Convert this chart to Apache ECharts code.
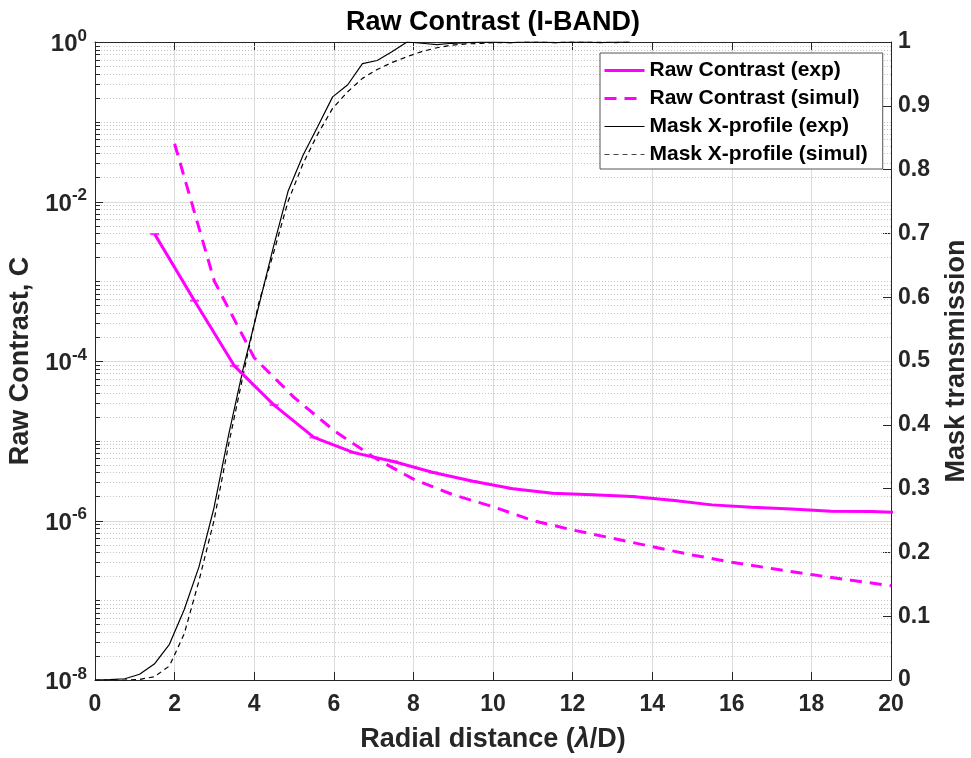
<!DOCTYPE html>
<html><head><meta charset="utf-8">
<script src="https://cdn.jsdelivr.net/npm/echarts@6/dist/echarts.min.js"></script>
<style>html,body{margin:0;padding:0;background:#fff}#c{width:971px;height:758px}</style>
</head><body><div id="c"></div>
<script>
const FONT = '"Liberation Sans", Arial, Helvetica, sans-serif';

// Raw contrast, experimental (log scale)
const contrastExpX = [1.5,2.5,3.5,4.5,5.5,6.5,7.5,8.5,9.5,10.5,11.5,12.5,13.5,14.5,15.5,16.5,17.5,18.5,19.5,20.5];
const contrastExpY = [3.9e-3,5.7e-4,8.7e-5,2.8e-5,1.1e-5,7.1e-6,5.5e-6,4.0e-6,3.1e-6,2.5e-6,2.2e-6,2.1e-6,2.0e-6,1.8e-6,1.57e-6,1.47e-6,1.39e-6,1.31e-6,1.3e-6,1.24e-6];

// Raw contrast, simulated
const contrastSimX = [2,3,4,5,6,7,8,9,10,11,12,13,14,15,16,17,18,19,20];
const contrastSimY = [5.3e-2,1.0e-3,1.1e-4,3.5e-5,1.35e-5,6.2e-6,3.3e-6,2.1e-6,1.49e-6,1.0e-6,7.6e-7,6.0e-7,4.7e-7,3.7e-7,3.0e-7,2.5e-7,2.1e-7,1.78e-7,1.52e-7];

// Mask X-profile (transmission, right axis)
const maskX = [0,0.37,0.75,1.12,1.49,1.87,2.24,2.61,2.99,3.36,3.73,4.11,4.48,4.85,5.23,5.6,5.97,6.35,6.72,7.09,7.47,7.84,8.21,8.59,8.96,9.33,9.71,10.08,10.45,10.83,11.2,11.57,11.95,12.32,12.69,13.07,13.44];
const maskExpT = [0,0.0005,0.002,0.009,0.025,0.056,0.11,0.177,0.27,0.385,0.49,0.585,0.678,0.766,0.823,0.868,0.914,0.933,0.966,0.971,0.985,1.0,0.998,0.996,0.998,0.999,1.0,1.0,0.999,1.0,1.0,0.999,1.0,1.0,0.999,1.0,1.0];
const maskSimT = [0,0,0,0.001,0.005,0.022,0.072,0.155,0.25,0.37,0.48,0.59,0.668,0.75,0.81,0.856,0.896,0.922,0.943,0.957,0.968,0.977,0.985,0.991,0.995,0.997,0.998,0.999,0.999,1.0,1.0,0.999,1.0,1.0,1.0,0.999,1.0];

// Tick labels
const leftLabelExps = [0,-2,-4,-6,-8];
const seriesNames = ['Raw Contrast (exp)','Raw Contrast (simul)','Mask X-profile (exp)','Mask X-profile (simul)'];

const zip = (xs, ys) => xs.map((x, i) => [x, ys[i]]);

// log grid decoration values (major = even decade)
const logGridVals = [];
for (let e = -8; e <= -1; e++) {
  for (let m = 1; m <= 9; m++) {
    if (e === -8 && m === 1) continue;
    const major = (m === 1 && e % 2 === 0) ? 1 : 0;
    logGridVals.push([0, m * Math.pow(10, e), major]);
  }
}

const AX = '#262626';
const chart = echarts.init(document.getElementById('c'), null, {renderer: 'canvas'});
chart.setOption({
  animation: false,
  backgroundColor: '#fff',
  grid: {left: 95, right: 80, top: 42, bottom: 78, containLabel: false, outerBoundsMode: 'none'},
  graphic: [{
    type: 'text', x: 493, y: 23, z: 10,
    style: {text: 'Raw Contrast (I-BAND)', font: 'bold 27px ' + FONT, fill: '#000', textAlign: 'center', textVerticalAlign: 'middle'}
  }],
  legend: {
    orient: 'vertical', left: 600, top: 53,
    padding: [6, 15, 3, 3], itemWidth: 40, itemHeight: 14, itemGap: 5,
    backgroundColor: '#fff', borderColor: '#555', borderWidth: 1, borderRadius: 0,
    itemStyle: {opacity: 0},
    textStyle: {fontFamily: FONT, fontWeight: 'bold', fontSize: 21, color: '#000', lineHeight: 23},
    data: [
      {name: seriesNames[0], lineStyle: {width: 3}},
      {name: seriesNames[1], lineStyle: {width: 3}},
      {name: seriesNames[2], lineStyle: {width: 1.2}},
      {name: seriesNames[3], lineStyle: {width: 1.2, color: '#444'}}
    ]
  },
  xAxis: [{
    type: 'value', min: 0, max: 20, interval: 2, position: 'bottom',
    axisLine: {show: true, onZero: false, lineStyle: {color: AX, width: 1}},
    axisTick: {show: true, inside: true, length: 8, lineStyle: {color: AX}},
    axisLabel: {fontFamily: FONT, fontWeight: 'bold', fontSize: 23, color: AX, margin: 13},
    splitLine: {show: true, lineStyle: {color: '#dcdcdc', width: 1}},
    name: 'Radial distance ({l|λ}/D)', nameLocation: 'middle', nameGap: 46,
    nameTextStyle: {fontFamily: FONT, fontWeight: 'bold', fontSize: 27, color: AX,
      rich: {l: {fontFamily: FONT, fontWeight: 'bold', fontStyle: 'italic', fontSize: 27, color: AX}}}
  }, {
    type: 'value', min: 0, max: 20, interval: 2, position: 'top',
    axisLine: {show: true, onZero: false, lineStyle: {color: AX, width: 1}},
    axisTick: {show: true, inside: true, length: 8, lineStyle: {color: AX}},
    axisLabel: {show: false}, splitLine: {show: false}
  }],
  yAxis: [{
    type: 'log', logBase: 10, min: 1e-8, max: 1, position: 'left',
    axisLine: {show: true, onZero: false, lineStyle: {color: AX, width: 1}},
    axisTick: {show: false},
    splitLine: {show: false},
    axisLabel: {
      margin: 8,
      formatter: (v) => {
        const e = Math.round(Math.log10(v));
        if (!leftLabelExps.includes(e)) return '';
        return '{b|10}{s|' + e + '}';
      },
      rich: {
        b: {fontFamily: FONT, fontWeight: 'bold', fontSize: 24, color: AX, verticalAlign: 'bottom'},
        s: {fontFamily: FONT, fontWeight: 'bold', fontSize: 17, color: AX, verticalAlign: 'bottom', padding: [0, 0, 12, 0]}
      }
    },
    name: 'Raw Contrast, C', nameLocation: 'middle', nameGap: 57, nameRotate: 90,
    nameTextStyle: {fontFamily: FONT, fontWeight: 'bold', fontSize: 27, color: AX}
  }, {
    type: 'value', min: 0, max: 1, interval: 0.1, position: 'right',
    axisLine: {show: true, onZero: false, lineStyle: {color: AX, width: 1}},
    axisTick: {show: true, inside: true, length: 8, lineStyle: {color: AX}},
    splitLine: {show: false},
    axisLabel: {fontFamily: FONT, fontWeight: 'bold', fontSize: 23, color: AX, margin: 7,
      formatter: (v) => String(Math.round(v * 10) / 10)},
    name: 'Mask transmission', nameLocation: 'middle', nameGap: 52, nameRotate: 90,
    nameTextStyle: {fontFamily: FONT, fontWeight: 'bold', fontSize: 27, color: AX}
  }],
  series: [{
    type: 'custom', name: 'grid', silent: true, z: 1,
    xAxisIndex: 0, yAxisIndex: 0,
    data: logGridVals,
    encode: {x: 0, y: 1},
    renderItem: (params, api) => {
      const v = api.value(1), major = api.value(2);
      const p0 = api.coord([0, v]), p1 = api.coord([20, v]);
      const y = Math.round(p0[1]) + 0.5;
      return {type: 'group', children: [
        {type: 'line', shape: {x1: p0[0], y1: y, x2: p1[0], y2: y},
         style: {stroke: major ? '#dcdcdc' : '#c4c4c4', lineWidth: 1, lineDash: major ? null : [1, 2]}},
        {type: 'line', shape: {x1: p0[0], y1: y, x2: p0[0] + (major ? 8 : 5), y2: y},
         style: {stroke: AX, lineWidth: 1}}
      ]};
    }
  }, {
    name: seriesNames[0], type: 'line', xAxisIndex: 0, yAxisIndex: 0, z: 5,
    data: zip(contrastExpX, contrastExpY), symbol: 'none',
    lineStyle: {color: '#ff00ff', width: 3}, itemStyle: {color: '#ff00ff'}
  }, {
    name: 'caps', type: 'scatter', xAxisIndex: 0, yAxisIndex: 0, z: 6, silent: true,
    data: zip(contrastExpX, contrastExpY), symbol: 'rect', symbolSize: [9, 2],
    itemStyle: {color: '#ff00ff'}
  }, {
    name: seriesNames[1], type: 'line', xAxisIndex: 0, yAxisIndex: 0, z: 4,
    data: zip(contrastSimX, contrastSimY), symbol: 'none',
    lineStyle: {color: '#ff00ff', width: 3, type: [12, 8]}, itemStyle: {color: '#ff00ff'}
  }, {
    name: seriesNames[2], type: 'line', xAxisIndex: 0, yAxisIndex: 1, z: 4,
    data: zip(maskX, maskExpT), symbol: 'none',
    lineStyle: {color: '#000', width: 1.2}, itemStyle: {color: '#000'}
  }, {
    name: seriesNames[3], type: 'line', xAxisIndex: 0, yAxisIndex: 1, z: 4,
    data: zip(maskX, maskSimT), symbol: 'none',
    lineStyle: {color: '#000', width: 1.2, type: [5, 4]}, itemStyle: {color: '#333'}
  }]
});
</script>
</body></html>
